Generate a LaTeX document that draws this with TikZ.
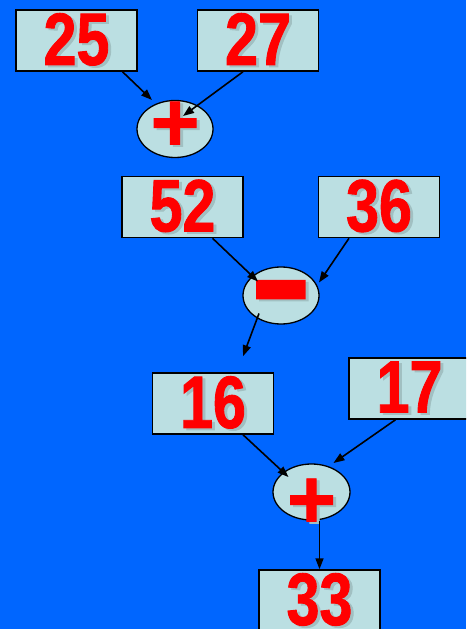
\documentclass[tikz,border=0pt]{standalone}
\usepackage{fontspec}
\usepackage{graphicx}
\usetikzlibrary{shapes.geometric, arrows.meta, positioning, calc}

\definecolor{slideblue}{RGB}{0,102,255}
\definecolor{boxfill}{RGB}{187,223,226}
\definecolor{numred}{RGB}{255,0,0}
\newfontfamily\numfont[FakeStretch=0.8,FakeBold=1.2]{Liberation Sans}
\newfontfamily\opfont[FakeBold=1]{Liberation Sans}
\newcommand\shadowed[1]{\makebox[0pt][l]{\hspace{3pt}\raisebox{-2pt}{\color{boxfill!86!black}#1}}#1}
\newcommand\opsign[2]{\smash{\makebox[0pt]{\raisebox{#1}{\shadowed{#2}}}}}

\tikzset{
    numbox/.style={draw=black, line width=1.5pt, fill=boxfill, rectangle, minimum width=121pt,
        minimum height=61pt, inner sep=0pt, text=numred, font=\numfont\bfseries\fontsize{74}{74}\selectfont},
    opnode/.style={draw=black, line width=1.3pt, fill=boxfill, ellipse, minimum width=76pt,
        minimum height=57pt, inner sep=0pt, text=numred, font=\opfont\bfseries\fontsize{84}{84}\selectfont},
    arr/.style={-{Triangle[length=11pt,width=8pt]}, line width=1.6pt},
}

\begin{document}
\begin{tikzpicture}[x=1pt,y=-1pt]
    % background
    \fill[slideblue] (0,0) rectangle (466,629);
    \useasboundingbox (0,0) rectangle (466,629);
    \clip (0,0) rectangle (466,629);

    % first sum
    \node[numbox] (b25) at (76.5,40.5) {\raisebox{3pt}{\shadowed{25}}};
    \node[numbox] (b27) at (258,40.5) {\raisebox{3pt}{\shadowed{27}}\hspace{30pt}};
    \node[opnode] (plusA) at (175,129) {\opsign{-22pt}{+}};

    % difference
    \node[numbox] (b52) at (182.5,207) {\raisebox{3pt}{\shadowed{52}}};
    \node[numbox] (b36) at (379,207) {\raisebox{3pt}{\shadowed{36}}};
    \node[opnode] (minus) at (281,295.5) {\fontsize{150}{150}\selectfont\opsign{-33pt}{\scalebox{1.25}[1]{-}}};

    % second sum
    \node[numbox] (b16) at (213,403.5) {\raisebox{3pt}{\shadowed{16}}};
    \node[numbox] (b17) at (409.5,388.5) {\raisebox{3pt}{\shadowed{17}}};
    \node[opnode, minimum width=77pt, minimum height=56pt] (plusB) at (311.5,492) {\opsign{-36pt}{+}};
    \node[numbox] (b33) at (319.5,600.5) {\raisebox{3pt}{\shadowed{33}}};

    % arrows
    \draw[arr] ([shift={(46,0)}]b25.south) -- ([shift={(-23,-29)}]plusA.center);
    \draw[arr] ([shift={(-15,0)}]b27.south) -- ([shift={(8,-13)}]plusA.center);
    \draw[arr] ([shift={(30,0)}]b52.south) -- ([shift={(-23,-14)}]minus.center);
    \draw[arr] ([shift={(-30,0)}]b36.south) -- ([shift={(38,-13)}]minus.center);
    \draw[arr] ([shift={(-22,18)}]minus.center) -- ([shift={(30,-16)}]b16.north);
    \draw[arr] ([shift={(30,0)}]b16.south) -- ([shift={(-23,-15)}]plusB.center);
    \draw[arr] ([shift={(-14,0)}]b17.south) -- ([shift={(22,-29)}]plusB.center);
    \draw[arr] (b33.north |- plusB.south) -- (b33.north);
\end{tikzpicture}
\end{document}
